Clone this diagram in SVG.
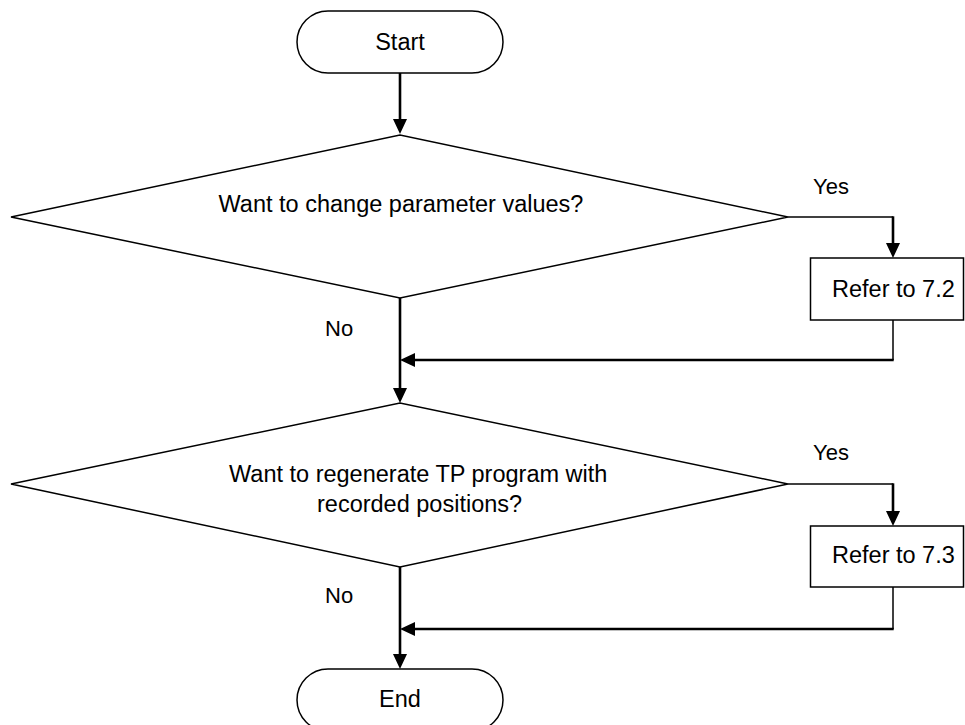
<svg xmlns="http://www.w3.org/2000/svg" width="965" height="725" viewBox="0 0 965 725">
  <style>
    .shape { fill: #ffffff; stroke: #000000; stroke-width: 1.5; }
    .label { font-family: "Liberation Sans", Arial, sans-serif; font-size: 23.5px; fill: #000000; }
    .small { font-size: 22px; }
    .mid { text-anchor: middle; }
    .flow { fill: none; stroke: #000000; stroke-width: 2.6; }
    .thin { fill: none; stroke: #000000; stroke-width: 1.5; }
  </style>
  <defs>
    <marker id="arrow" markerUnits="userSpaceOnUse" markerWidth="16" markerHeight="14" refX="5" refY="7" orient="auto">
      <path d="M0,0 L15,7 L0,14 Z" fill="#000000"/>
    </marker>
  </defs>

  <rect width="965" height="725" fill="#ffffff"/>

  <g id="connectors">
    <!-- Start to first decision -->
    <path class="flow" d="M400,73 V124" marker-end="url(#arrow)"/>
    <!-- first decision, No branch, down to second decision -->
    <path class="flow" d="M400,298 V393" marker-end="url(#arrow)"/>
    <!-- first decision, Yes branch -->
    <path class="thin" d="M788,217 H893"/>
    <path class="flow" d="M893,216.3 V248" marker-end="url(#arrow)"/>
    <!-- Refer to 7.2 back to main line -->
    <path class="thin" d="M893,320 V360"/>
    <path class="flow" d="M893.7,360 H410" marker-end="url(#arrow)"/>
    <!-- second decision, Yes branch -->
    <path class="thin" d="M788,484 H893"/>
    <path class="flow" d="M893,483.3 V516" marker-end="url(#arrow)"/>
    <!-- Refer to 7.3 back to main line -->
    <path class="thin" d="M893,587 V629"/>
    <path class="flow" d="M893.7,629 H410" marker-end="url(#arrow)"/>
    <!-- second decision, No branch, down to End -->
    <path class="flow" d="M400,567 V659" marker-end="url(#arrow)"/>
  </g>

  <g id="start">
    <rect class="shape" x="297" y="11" width="206" height="62" rx="31" ry="31"/>
    <text class="label mid" x="400" y="50">Start</text>
  </g>

  <g id="decision-parameters">
    <polygon class="shape" points="11,217 400,135 788,217 400,298"/>
    <text class="label mid" x="401" y="212">Want to change parameter values?</text>
  </g>

  <g id="refer-7-2">
    <rect class="shape" x="810.5" y="258" width="153" height="62"/>
    <text class="label" x="832" y="297">Refer to 7.2</text>
  </g>

  <g id="decision-regenerate">
    <polygon class="shape" points="11,484 400,403 788,484 400,567"/>
    <text class="label" x="229" y="482">Want to regenerate TP program with</text>
    <text class="label" x="317" y="512">recorded positions?</text>
  </g>

  <g id="refer-7-3">
    <rect class="shape" x="810.5" y="526" width="153" height="61"/>
    <text class="label" x="832" y="563">Refer to 7.3</text>
  </g>

  <g id="end">
    <rect class="shape" x="297" y="669" width="206" height="62" rx="31" ry="31"/>
    <text class="label mid" x="400" y="707">End</text>
  </g>

  <g id="branch-labels">
    <text class="label small" x="813" y="194">Yes</text>
    <text class="label small" x="325" y="336">No</text>
    <text class="label small" x="813" y="460">Yes</text>
    <text class="label small" x="325" y="603">No</text>
  </g>
</svg>
